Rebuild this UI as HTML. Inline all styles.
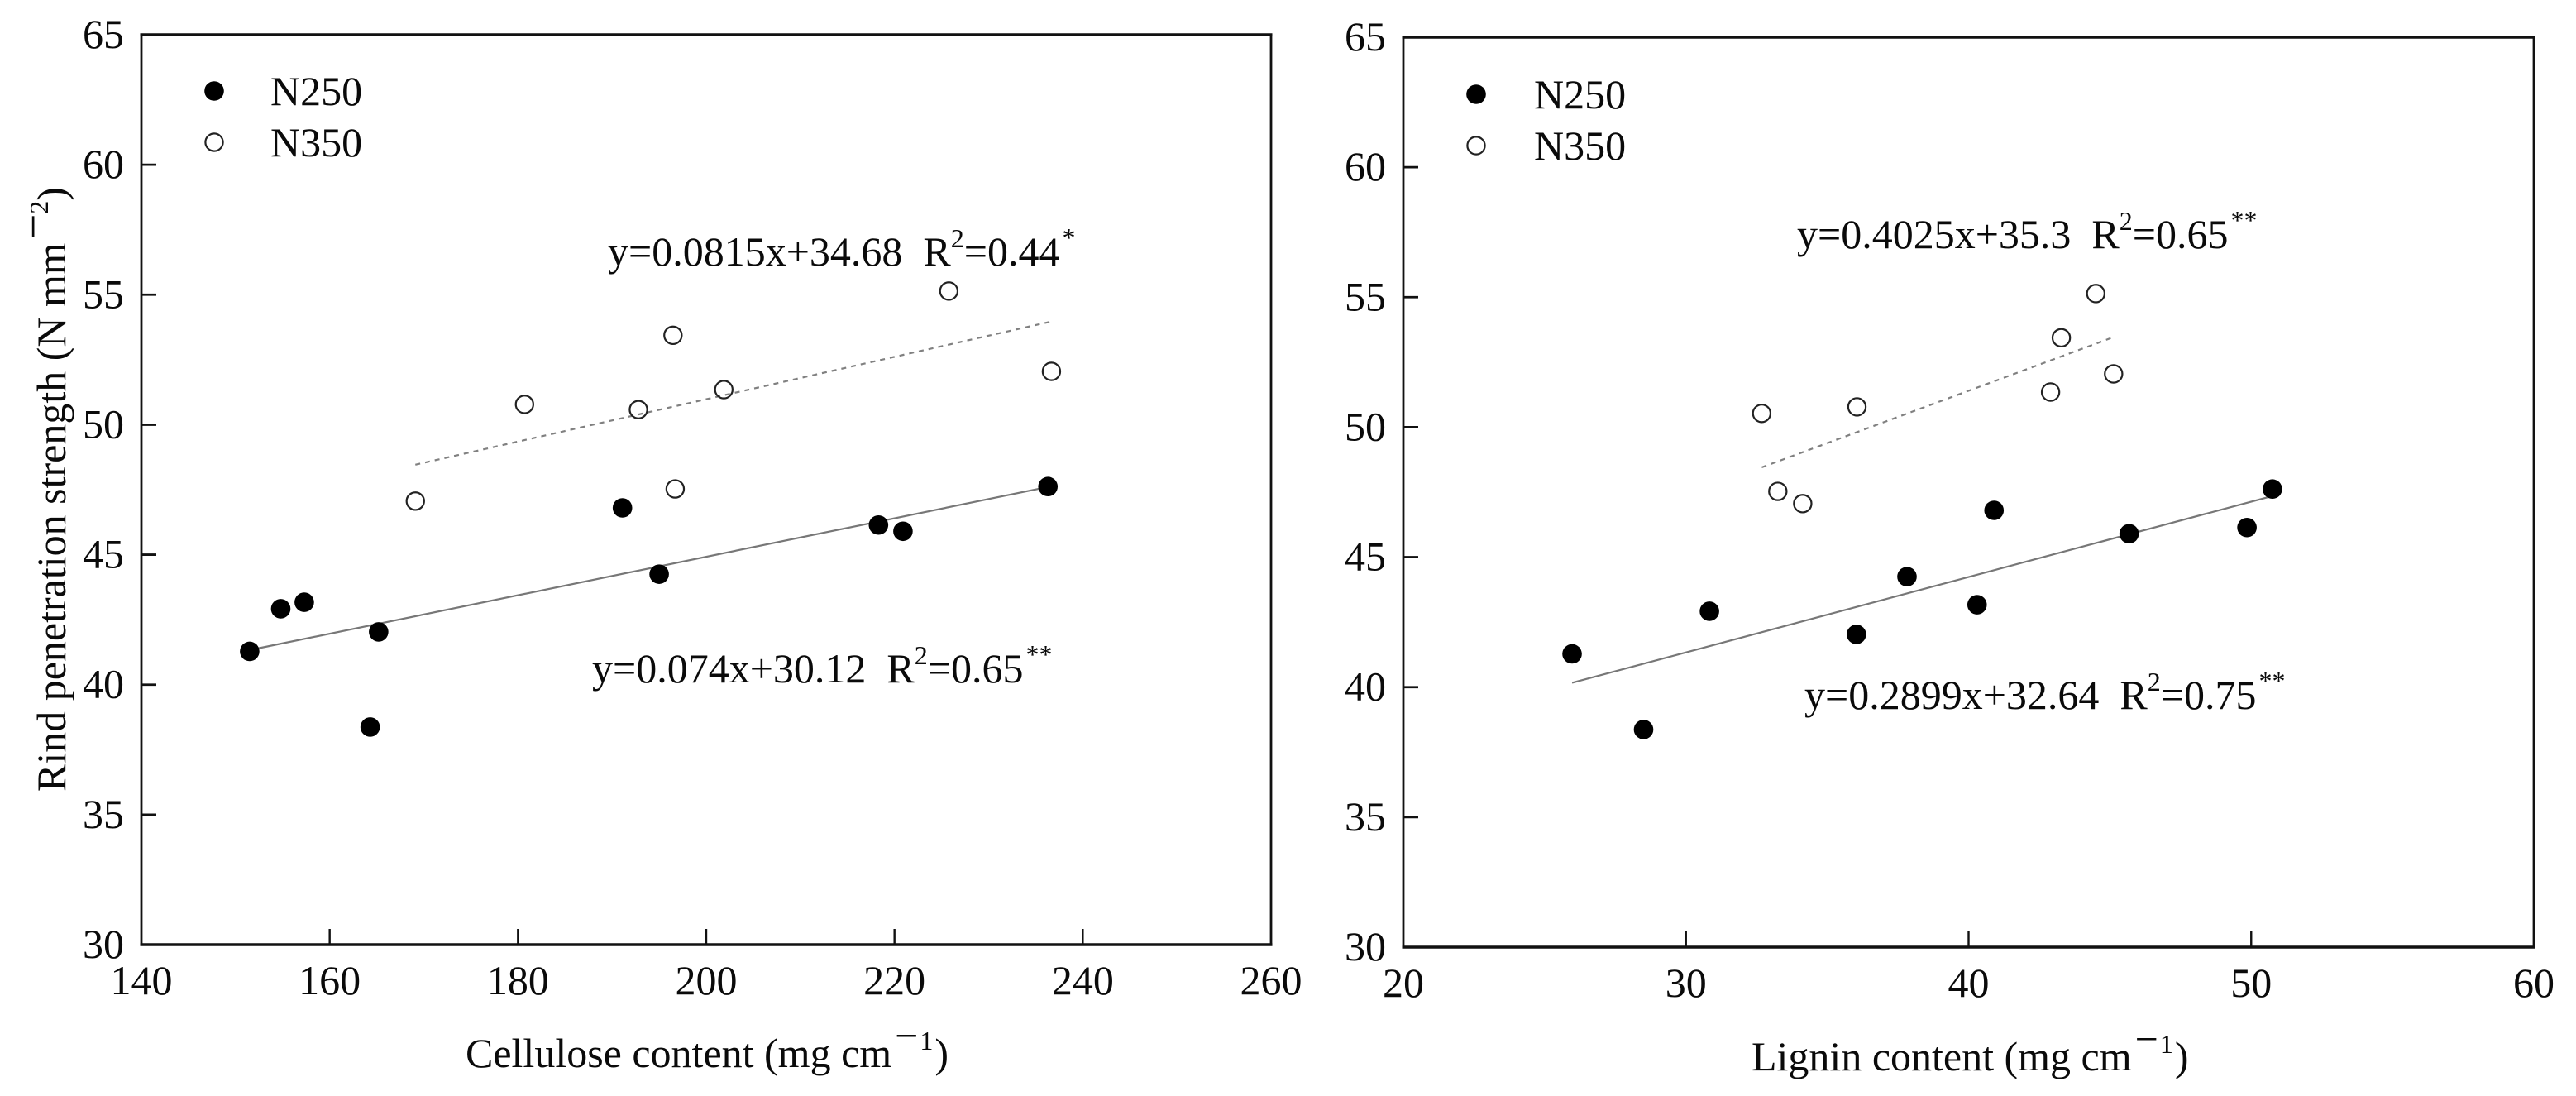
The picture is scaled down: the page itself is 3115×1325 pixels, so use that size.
<!DOCTYPE html>
<html lang="en">
<head>
<meta charset="utf-8">
<title>Rind penetration strength vs cellulose and lignin content</title>
<style>
html,body{margin:0;padding:0;background:#fff;width:3115px;height:1325px;overflow:hidden}
svg{display:block}
text{font-family:"Liberation Serif","Times New Roman",serif;fill:#0a0a0a;font-size:50px}
.sup{font-size:32px}
</style>
</head>
<body>
<svg id="chart" xmlns="http://www.w3.org/2000/svg" width="3115" height="1325" viewBox="0 0 3115 1325">
  <rect width="3115" height="1325" fill="#fff"/>
  <g id="panel-a"></g>
  <g id="panel-b"></g>

  <text x="79" y="957" transform="rotate(-90 79 957)">Rind penetration strength (N mm<tspan font-size="54" dy="-21" dx="4">−</tspan><tspan class="sup" dy="0">2</tspan><tspan dy="21">)</tspan></text>
  <text x="563" y="1290">Cellulose content (mg cm<tspan font-size="50" dy="-21" dx="4">−</tspan><tspan class="sup" dy="0" dx="2">1</tspan><tspan dy="21" dx="2">)</tspan></text>
  <text x="2118" y="1294">Lignin content (mg cm<tspan font-size="50" dy="-21" dx="4">−</tspan><tspan class="sup" dy="0" dx="2">1</tspan><tspan dy="21" dx="2">)</tspan></text>

  <text x="735" y="321" xml:space="preserve">y=0.0815x+34.68  R<tspan class="sup" dy="-22">2</tspan><tspan dy="22">=0.44</tspan><tspan class="sup" dy="-23" dx="3">*</tspan></text>
  <text x="716" y="825" xml:space="preserve">y=0.074x+30.12  R<tspan class="sup" dy="-22">2</tspan><tspan dy="22">=0.65</tspan><tspan class="sup" dy="-23" dx="3">**</tspan></text>
  <text x="2173" y="300" xml:space="preserve">y=0.4025x+35.3  R<tspan class="sup" dy="-22">2</tspan><tspan dy="22">=0.65</tspan><tspan class="sup" dy="-23" dx="3">**</tspan></text>
  <text x="2182" y="857" xml:space="preserve">y=0.2899x+32.64  R<tspan class="sup" dy="-22">2</tspan><tspan dy="22">=0.75</tspan><tspan class="sup" dy="-23" dx="3">**</tspan></text>

  <g>
    <circle cx="259" cy="110" r="11.8" fill="#000"/>
    <text x="327" y="127">N250</text>
    <circle cx="259" cy="172" r="10.6" fill="#fff" stroke="#222" stroke-width="2.2"/>
    <text x="327" y="189">N350</text>
  </g>
  <g>
    <circle cx="1785" cy="114" r="11.8" fill="#000"/>
    <text x="1855" y="131">N250</text>
    <circle cx="1785" cy="176" r="10.6" fill="#fff" stroke="#222" stroke-width="2.2"/>
    <text x="1855" y="193">N350</text>
  </g>
</svg>
<script>
// ---- shared y axis ----
const yTicks = [30, 35, 40, 45, 50, 55, 60, 65];

// ---- cellulose panel data ----
const celluloseTicks = [140, 160, 180, 200, 220, 240, 260];
const celluloseN250X = [151.5, 154.8, 157.3, 165.2, 164.3, 191.1, 195.0, 218.3, 220.9, 236.3];
const celluloseN250Y = [41.28, 42.92, 43.17, 42.03, 38.37, 46.80, 44.25, 46.14, 45.90, 47.62];
const celluloseN350X = [169.1, 180.7, 192.8, 196.47, 196.7, 201.87, 225.77, 236.67];
const celluloseN350Y = [47.06, 50.78, 50.58, 53.44, 47.53, 51.35, 55.14, 52.05];
const celluloseN250Fit = [0.074, 30.12];
const celluloseN350Fit = [0.0815, 34.68];

// ---- lignin panel data ----
const ligninTicks = [20, 30, 40, 50, 60];
const ligninN250X = [25.97, 28.5, 30.83, 36.03, 37.82, 40.3, 40.9, 45.68, 49.85, 50.75];
const ligninN250Y = [41.28, 38.37, 42.92, 42.03, 44.25, 43.17, 46.80, 45.90, 46.14, 47.62];
const ligninN350X = [32.68, 33.25, 34.13, 36.05, 42.9, 43.28, 44.5, 45.13];
const ligninN350Y = [50.53, 47.53, 47.06, 50.78, 51.35, 53.44, 55.14, 52.05];
const ligninN250Fit = [0.2899, 32.64];
const ligninN350Fit = [0.4025, 35.3];

const SVGNS = 'http://www.w3.org/2000/svg';

function make(tag, parent, props) {
  const el = document.createElementNS(SVGNS, tag);
  for (const k in props) el.setAttribute(k, props[k]);
  parent.appendChild(el);
  return el;
}

function drawPanel(opts) {
  const g = document.getElementById(opts.id);
  const xMin = opts.xTicks[0], xMax = opts.xTicks[opts.xTicks.length - 1];
  const yMin = yTicks[0], yMax = yTicks[yTicks.length - 1];
  const sx = v => opts.left + (v - xMin) / (xMax - xMin) * (opts.right - opts.left);
  const sy = v => opts.bottom - (v - yMin) / (yMax - yMin) * (opts.bottom - opts.top);

  const frameTop = make('line', g, {x1: opts.left - 1.5, x2: opts.right + 1.5, y1: opts.top, y2: opts.top, stroke: '#111', 'stroke-width': 3.4});
  
  

  const frameBottom = make('line', g, {x1: opts.left - 1.5, x2: opts.right + 1.5, y1: opts.bottom, y2: opts.bottom, stroke: '#111', 'stroke-width': 3.4});
  
  

  const frameLeft = make('line', g, {x1: opts.left, x2: opts.left, y1: opts.top, y2: opts.bottom, stroke: '#111', 'stroke-width': 2.8});
  
  

  const frameRight = make('line', g, {x1: opts.right, x2: opts.right, y1: opts.top, y2: opts.bottom, stroke: '#111', 'stroke-width': 2.8});
  
  

  yTicks.forEach((t, i) => {
    if (i > 0 && i < yTicks.length - 1) {
      const tick = make('line', g, {x1: opts.left, x2: opts.left + 18, y1: sy(t), y2: sy(t), stroke: '#111', 'stroke-width': 2.8});
      
      
    }
    const label = make('text', g, {x: opts.left - 21, y: sy(t) + 16, 'text-anchor': 'end'});
    label.textContent = t;
    
    
  });

  opts.xTicks.forEach((t, i) => {
    if (i > 0 && i < opts.xTicks.length - 1) {
      const tick = make('line', g, {x1: sx(t), x2: sx(t), y1: opts.bottom, y2: opts.bottom - 19, stroke: '#111', 'stroke-width': 2.4});
      
      
    }
    const label = make('text', g, {x: sx(t), y: opts.bottom + 60, 'text-anchor': 'middle'});
    label.textContent = t;
    
    
  });

  const fitEnds = (xs, fit) => {
    const lo = Math.min.apply(null, xs), hi = Math.max.apply(null, xs);
    return {x1: sx(lo), x2: sx(hi), y1: sy(fit[0] * lo + fit[1]), y2: sy(fit[0] * hi + fit[1])};
  };

  const line250 = make('line', g, Object.assign(fitEnds(opts.n250x, opts.n250fit), {stroke: '#777', 'stroke-width': 2.2}));
  
  

  const line350 = make('line', g, Object.assign(fitEnds(opts.n350x, opts.n350fit), {stroke: '#808080', 'stroke-width': 2.2, 'stroke-dasharray': '6 6'}));
  
  

  opts.n350x.forEach((x, i) => {
    const pt = make('circle', g, {cx: sx(x), cy: sy(opts.n350y[i]), r: 10.6, fill: 'none', stroke: '#222', 'stroke-width': 2.2});
    
    
  });

  opts.n250x.forEach((x, i) => {
    const pt = make('circle', g, {cx: sx(x), cy: sy(opts.n250y[i]), r: 11.8, fill: '#000'});
    
    
  });
}

drawPanel({id: 'panel-a', left: 171, right: 1537, top: 42, bottom: 1142,
  xTicks: celluloseTicks,
  n250x: celluloseN250X, n250y: celluloseN250Y, n350x: celluloseN350X, n350y: celluloseN350Y,
  n250fit: celluloseN250Fit, n350fit: celluloseN350Fit});

drawPanel({id: 'panel-b', left: 1697, right: 3064, top: 45, bottom: 1145,
  xTicks: ligninTicks,
  n250x: ligninN250X, n250y: ligninN250Y, n350x: ligninN350X, n350y: ligninN350Y,
  n250fit: ligninN250Fit, n350fit: ligninN350Fit});
</script>
</body>
</html>
